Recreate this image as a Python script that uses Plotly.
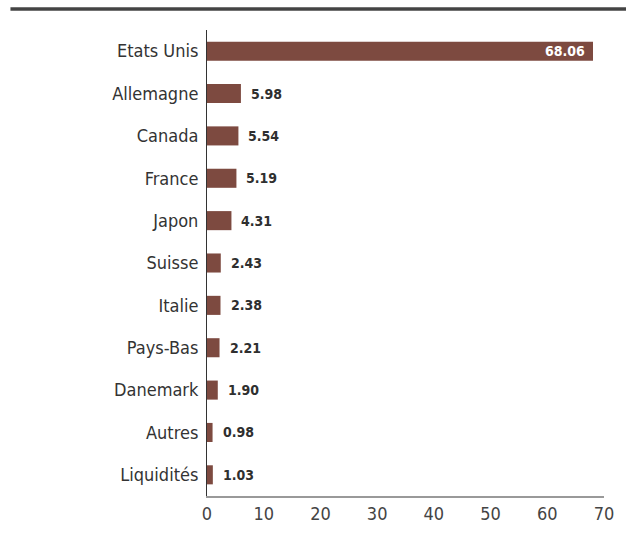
import plotly.graph_objects as go

categories = ["Etats Unis", "Allemagne", "Canada", "France", "Japon", "Suisse",
              "Italie", "Pays-Bas", "Danemark", "Autres", "Liquidités"]
values = [68.06, 5.98, 5.54, 5.19, 4.31, 2.43, 2.38, 2.21, 1.90, 0.98, 1.03]
x_ticks = [0, 10, 20, 30, 40, 50, 60, 70]

FONT = "DejaVu Sans Condensed, Liberation Sans Narrow, sans-serif"
BAR = "#7d4a40"

fig = go.Figure(go.Bar(
    x=values, y=categories, orientation="h",
    marker=dict(color=BAR, line=dict(width=0)),
    width=0.45,
    hoverinfo="skip",
))

for i, (c, v) in enumerate(zip(categories, values)):
    inside = v > 30
    fig.add_annotation(
        x=v, y=c, xref="x", yref="y",
        text=f"<b>{v:.2f}</b>",
        showarrow=False,
        xanchor="right" if inside else "left",
        xshift=-6 if inside else 8,
        font=dict(family=FONT, size=14, color="white" if inside else "#2f2f2f"),
    )

W, H = 626, 536
ml, mr, mt, mb = 207, 13, 30, 40
pw = W - ml - mr
ph = H - mt - mb

fig.add_shape(type="line", xref="paper", yref="paper",
              x0=(6 - ml) / pw, x1=(W + 10 - ml) / pw,
              y0=1 + (mt - 9) / ph, y1=1 + (mt - 9) / ph,
              line=dict(color="#444444", width=3.5))

fig.update_layout(
    width=W, height=H,
    margin=dict(l=ml, r=mr, t=mt, b=mb),
    paper_bgcolor="white", plot_bgcolor="white",
    showlegend=False,
    xaxis=dict(range=[0, 70], tickvals=x_ticks, ticktext=[str(t) for t in x_ticks],
               showgrid=False, zeroline=False, showline=True,
               linecolor="#999999", linewidth=2, ticks="",
               ticklabeloverflow="allow",
               tickfont=dict(family=FONT, size=18, color="#444444")),
    yaxis=dict(autorange=False, range=[10.5, -0.5],
               showgrid=False, zeroline=False, showline=True,
               linecolor="#333333", linewidth=1, ticks="", ticklabelstandoff=4,
               tickfont=dict(family=FONT, size=18, color="#333333")),
)

fig.write_html("out.html", config={"displayModeBar": False})
